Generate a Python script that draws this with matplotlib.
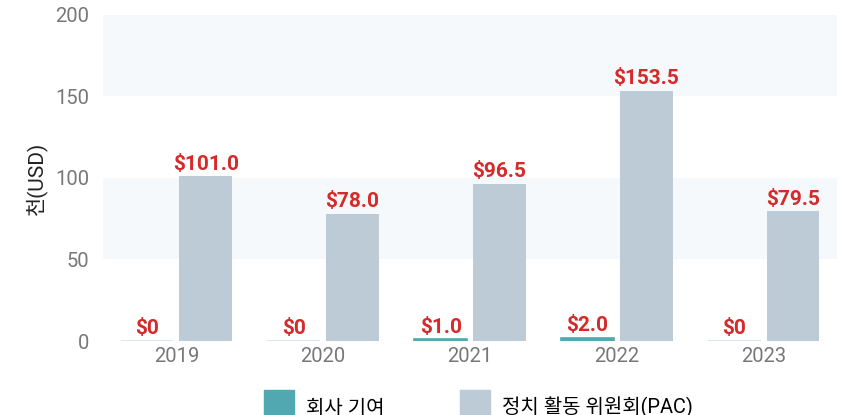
import matplotlib.pyplot as plt
from matplotlib.patches import Patch
import numpy as np

plt.rcParams['font.family'] = ['Roboto', 'Noto Sans CJK KR', 'DejaVu Sans']

years = ['2019', '2020', '2021', '2022', '2023']
company = [0, 0, 1.0, 2.0, 0]
pac = [101.0, 78.0, 96.5, 153.5, 79.5]
series_names = ['회사 기여', '정치 활동 위원회(PAC)']
y_label = '천(USD)'

teal = '#52a8b0'
grey = '#bccbd6'
red = '#d42a2a'


def fmt(v):
    return '$0' if v == 0 else '${:.1f}'.format(v)


fig = plt.figure(figsize=(8.45, 4.15), dpi=100)
ax = fig.add_axes([0.1219, 0.1783, 0.8686, 0.7856])

x = np.arange(len(years))
w = 0.36
ax.axhspan(50, 100, color='#f5f9fc', zorder=0, lw=0)
ax.axhspan(150, 200, color='#f5f9fc', zorder=0, lw=0)

# zero values still show a faint line on the baseline
edges = ['#cfe4ea' if v == 0 else teal for v in company]
b1 = ax.bar(x - 0.2, company, w, color=teal, edgecolor=edges, linewidth=1.2, zorder=2)
b2 = ax.bar(x + 0.2, pac, w, color=grey, zorder=2)

for bars, vals in ((b1, company), (b2, pac)):
    for r, v in zip(bars, vals):
        ax.annotate(fmt(v), (r.get_x() + r.get_width() / 2, v), xytext=(0, 2),
                    textcoords='offset points', ha='center', va='bottom',
                    color=red, fontsize=15, fontweight='bold')

ax.set_xlim(-0.5, len(years) - 0.5)
ax.set_ylim(0, 200)
ax.set_yticks([0, 50, 100, 150, 200])
ax.set_xticks(x)
ax.set_xticklabels(years)
ax.tick_params(length=0, labelsize=14.5, labelcolor='#777777')
ax.tick_params(axis='y', pad=10)
ax.tick_params(axis='x', pad=4)
for s in ax.spines.values():
    s.set_visible(False)
ax.set_ylabel(y_label, fontsize=15, color='#222222', labelpad=6)

handles = [Patch(color=teal), Patch(color=grey)]
fig.legend(handles, series_names, loc='upper center', bbox_to_anchor=(0.566, 0.06),
           ncol=2, frameon=False, fontsize=14.4, handlelength=1.5, handleheight=2.3,
           handletextpad=0.6, columnspacing=3.8, borderaxespad=0, borderpad=0)

fig.savefig('out.png', dpi=100)
